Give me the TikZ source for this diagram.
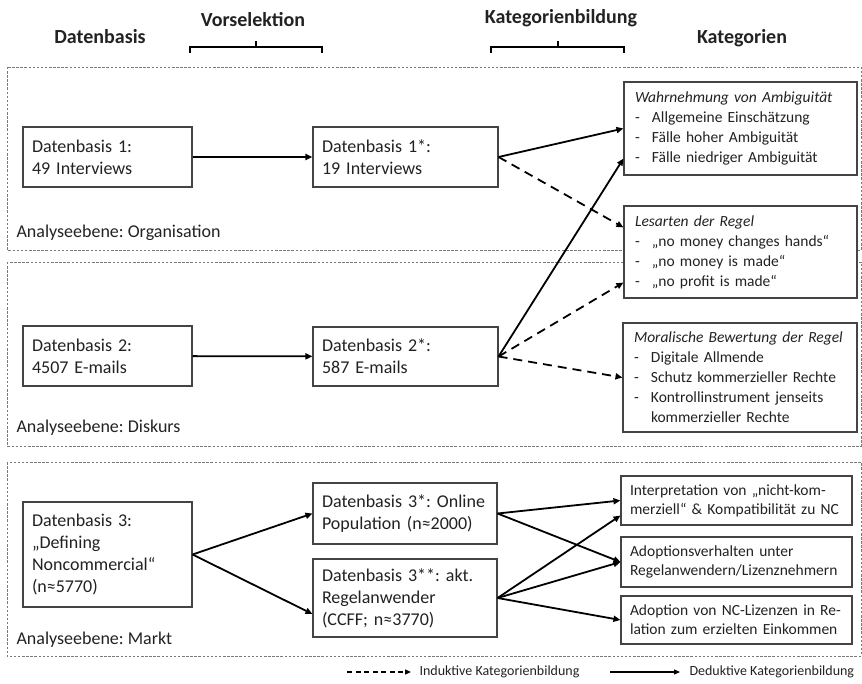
\documentclass[tikz,border=0pt]{standalone}
\usepackage{fontspec}
\setmainfont{Carlito}
\usetikzlibrary{arrows.meta}
\definecolor{txt}{HTML}{222222}
\definecolor{bord}{HTML}{444444}
\definecolor{dashc}{HTML}{7A7A7A}
\frenchspacing
\begin{document}
\begin{tikzpicture}[x=1pt,y=-1pt,
  every node/.style={text=txt},
  dbox/.style={draw=bord, fill=white, line width=1.1pt, align=left, inner xsep=9pt, inner ysep=0pt,
    font=\fontsize{18}{22}\selectfont\frenchspacing},
  kbox/.style={draw=bord, fill=white, line width=1.1pt, align=left, inner xsep=11pt, inner ysep=0pt,
    font=\fontsize{15.5}{20}\selectfont\frenchspacing},
  cbox/.style={draw=bord, fill=white, line width=1.1pt, align=left, inner xsep=9pt, inner ysep=0pt,
    font=\fontsize{15.5}{19}\selectfont\frenchspacing},
  head/.style={font=\fontsize{20}{24}\selectfont\bfseries},
  level/.style={anchor=west, font=\fontsize{18}{22}\selectfont\frenchspacing},
  area/.style={draw=dashc, line width=0.9pt, dash pattern=on 2.5pt off 1.6pt},
  conn/.style={line width=1.8pt, -{Triangle[length=7pt,width=6pt]}},
  dconn/.style={conn, dash pattern=on 9pt off 6pt},
  brace/.style={line width=1.6pt},
  legtext/.style={anchor=west, font=\fontsize{14}{17}\selectfont}
]
\useasboundingbox (0,0) rectangle (862,684);

% headers
\node[head] (hdb) at (100,37) {Datenbasis};
\node[head] (hvs) at (253,20) {Vorselektion};
\node[head] (hkb) at (561,18) {Kategorienbildung};
\node[head] (hk) at (742,38) {Kategorien};
\draw[brace] (190,53) -- (190,47) -- (322,47) -- (322,53);
\draw[brace] (256,47) -- (256,41);
\draw[brace] (491,53) -- (491,47) -- (624,47) -- (624,53);
\draw[brace] (558,47) -- (558,41);

% analysis areas
\draw[area] (7,67) rectangle (861,250);
\draw[area] (7,262) rectangle (861,446);
\draw[area] (7,462) rectangle (861,656);
\node[level] (lorg) at (13,233) {Analyseebene: Organisation};
\node[level] (ldis) at (13,428) {Analyseebene: Diskurs};
\node[level] (lmar) at (13,640) {Analyseebene: Markt};

% data boxes
\node[dbox, minimum width=169pt, minimum height=60pt, text width=151pt] (db1) at (107.5,157)
  {Datenbasis 1:\\49 Interviews};
\node[dbox, minimum width=185pt, minimum height=60pt, text width=167pt] (db1s) at (405.5,157)
  {Datenbasis 1*:\\19 Interviews};
\node[dbox, minimum width=169pt, minimum height=60pt, text width=151pt] (db2) at (107.5,356)
  {Datenbasis 2:\\4507 E-mails};
\node[dbox, minimum width=185pt, minimum height=59pt, text width=167pt] (db2s) at (405.5,356.5)
  {Datenbasis 2*:\\587 E-mails};
\node[dbox, minimum width=169pt, minimum height=105pt, text width=151pt] (db3) at (107.5,554.5)
  {Datenbasis 3:\\„Defining\\Noncommercial“\\(n≈5770)};
\node[dbox, minimum width=184pt, minimum height=61pt, text width=166pt] (db3s) at (405,513.5)
  {\mbox{Datenbasis 3*: Online}\\\mbox{Population (n≈2000)}};
\node[dbox, minimum width=184pt, minimum height=78pt, text width=166pt] (db3ss) at (405,598)
  {\mbox{Datenbasis 3**: akt.}\\Regelanwender\\\mbox{(CCFF; n≈3770)}};

% category boxes
\node[kbox, minimum width=233pt, minimum height=93pt, text width=211pt] (kat1) at (740.5,128.5)
  {\textit{Wahrnehmung von Ambiguität}\\
   \makebox[17pt][l]{-}Allgemeine Einschätzung\\
   \makebox[17pt][l]{-}Fälle hoher Ambiguität\\
   \makebox[17pt][l]{-}Fälle niedriger Ambiguität};
\node[kbox, minimum width=233pt, minimum height=92pt, text width=211pt] (kat2) at (740.5,252)
  {\textit{Lesarten der Regel}\\
   \makebox[17pt][l]{-}„no money changes hands“\\
   \makebox[17pt][l]{-}„no money is made“\\
   \makebox[17pt][l]{-}„no profit is made“};
\node[kbox, minimum width=234pt, minimum height=109pt, text width=212pt] (kat3) at (740,377.5)
  {\mbox{\textit{Moralische Bewertung der Regel}}\\
   \makebox[17pt][l]{-}Digitale Allmende\\
   \makebox[17pt][l]{-}Schutz kommerzieller Rechte\\
   \makebox[17pt][l]{-}Kontrollinstrument jenseits\\
   \makebox[17pt][l]{}kommerzieller Rechte};
\node[cbox, minimum width=231pt, minimum height=49pt, text width=213pt] (c3a) at (736.5,500.5)
  {\mbox{Interpretation von „nicht-kom-}\\\mbox{merziell“ \& Kompatibilität zu NC}};
\node[cbox, minimum width=231pt, minimum height=50pt, text width=213pt] (c3b) at (736.5,562)
  {Adoptionsverhalten unter\\\mbox{Regelanwendern/Lizenznehmern}};
\node[cbox, minimum width=231pt, minimum height=48pt, text width=213pt] (c3c) at (736.5,620)
  {\mbox{Adoption von NC-Lizenzen in Re-}\\\mbox{lation zum erzielten Einkommen}};

% connectors
\draw[conn] (db1) -- (db1s);
\draw[conn] (db2) -- (db2s);
\draw[conn] (db1s.east) -- (kat1.west);
\draw[dconn] (db1s.east) -- ([yshift=-22pt]kat2.north west);
\draw[conn] (db2s.east) -- ([yshift=17pt]kat1.south west);
\draw[dconn] (db2s.east) -- ([yshift=16pt]kat2.south west);
\draw[dconn] (db2s.east) -- (kat3.west);
\draw[conn] (db3.east) -- (db3s.west);
\draw[conn] (db3.east) -- ([yshift=-16pt]db3ss.west);
\draw[conn] (db3s.east) -- (c3a.west);
\draw[conn] (db3s.east) -- (c3b.west);
\draw[conn] (db3ss.east) -- ([yshift=10pt]c3a.south west);
\draw[conn] (db3ss.east) -- (c3b.west);
\draw[conn] (db3ss.east) -- (c3c.west);

% legend
\coordinate (li) at (347,672);
\coordinate (ld) at (610,672);
\node[legtext] (lit) at (416,672) {Induktive Kategorienbildung};
\node[legtext] (ldt) at (686,672) {Deduktive Kategorienbildung};
\draw[line width=1.3pt, dash pattern=on 5pt off 3.5pt, -{Triangle[length=6pt,width=5pt]}] (li) -- ([xshift=-5pt]lit.west);
\draw[line width=1.3pt, -{Triangle[length=6pt,width=5pt]}] (ld) -- ([xshift=-6pt]ldt.west);
\end{tikzpicture}
\end{document}
